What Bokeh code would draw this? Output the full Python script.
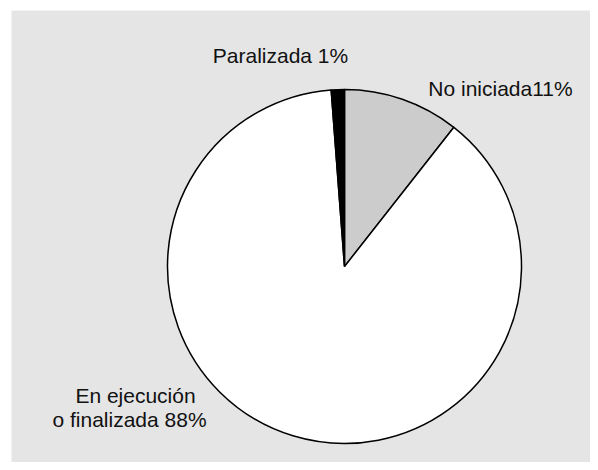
import numpy as np
from bokeh.plotting import figure
from bokeh.models import Range1d, ColumnDataSource
from bokeh.core.properties import value
from bokeh.embed import file_html
from bokeh.resources import INLINE

# data (clockwise from 12 o'clock)
categories = ["No iniciada", "En ejecución o finalizada", "Paralizada"]
shares = [10.6, 88.2, 1.2]
label_texts = ["No iniciada11%", "En ejecución", "o finalizada 88%", "Paralizada 1%"]
colors = ["#cccccc", "#ffffff", "#000000"]

W, H = 590, 462
BL, BT = 11, 10
p = figure(width=W, height=H, output_backend="svg", toolbar_location=None,
           x_range=Range1d(0, W - BL), y_range=Range1d(0, H - BT),
           min_border_left=BL, min_border_top=BT, min_border_right=0, min_border_bottom=0)
p.axis.visible = False
p.grid.visible = False
p.outline_line_color = None
p.background_fill_color = "#e5e5e5"
p.border_fill_color = "#ffffff"

cx, cy, r = 333, 196, 177
vals = np.array(shares, dtype=float)
fr = vals / vals.sum()
cum = np.concatenate([[0], np.cumsum(fr)])
start = np.pi / 2 - cum[:-1] * 2 * np.pi
end = np.pi / 2 - cum[1:] * 2 * np.pi

src = ColumnDataSource(dict(x=[cx] * 3, y=[cy] * 3, start=start, end=end,
                            color=colors, cat=categories))
p.wedge(x="x", y="y", radius=r, radius_units="screen", start_angle="start",
        end_angle="end", direction="clock", fill_color="color",
        line_color="#000000", line_width=1.5, source=src)

font = value("Liberation Sans")
# label positions (layout)
lx = [489, 124, 118, 269]
ly = [374, 67, 43, 407]
p.text(x=lx, y=ly, text=label_texts, text_font=font, text_font_size="21px",
       text_color="#111111", text_align="center", text_baseline="middle")

open("out.html", "w").write(file_html(p, INLINE))
